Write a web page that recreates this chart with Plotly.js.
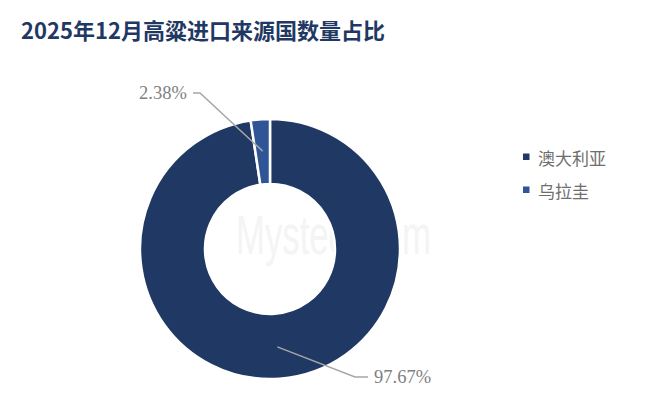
<!DOCTYPE html>
<html><head><meta charset="utf-8">
<script src="https://cdn.plot.ly/plotly-3.0.1.min.js"></script>
<style>html,body{margin:0;padding:0;background:#fff}
#wrap{position:relative;width:654px;height:405px}
#wm{position:absolute;left:236px;top:205px;font-family:'Liberation Sans',Arial,sans-serif;font-size:56px;color:#f4f4f4;line-height:60px;transform-origin:0 0;transform:scaleX(0.62);white-space:nowrap}
#chart{position:absolute;left:0;top:0;width:654px;height:405px}</style>
</head><body><div id="wrap"><div id="wm">Mysteel.com</div><div id="chart"></div></div>
<script>
const categories = ['澳大利亚', '乌拉圭'];
const values = [97.67, 2.38];
const valueLabels = ['97.67%', '2.38%'];
const colors = ['#203864', '#2F5597'];
const titleText = '2025年12月高粱进口来源国数量占比';

const W = 654, H = 405;
const cx = 270, cy = 249, R = 130;

const total = values.reduce((a, b) => a + b, 0);
let cum = 0;
const shapes = [], annotations = [];
const leader = [
  {elbow: [355, 377], end: [368, 377], lx: 372, anchor: 'left'},
  {elbow: [200, 93], end: [193, 93], lx: 189, anchor: 'right'}
];
values.forEach((v, i) => {
  const mid = (cum + v / 2) / total * 2 * Math.PI;
  cum += v;
  const r = R * 0.755;
  const sx = cx + r * Math.sin(mid), sy = cy - r * Math.cos(mid);
  const L = leader[i];
  shapes.push({type: 'path', xref: 'x', yref: 'y',
    path: `M${sx},${sy} L${L.elbow[0]},${L.elbow[1]} L${L.end[0]},${L.end[1]}`,
    line: {color: '#A6A6A6', width: 1.5}});
  annotations.push({xref: 'x', yref: 'y', x: L.lx, y: L.end[1], text: valueLabels[i],
    showarrow: false, xanchor: L.anchor, yanchor: 'middle',
    font: {family: 'Liberation Serif, serif', size: 18.5, color: '#7F7F7F'}});
});

const legTop = 157, legGap = 33;
categories.forEach((c, i) => {
  const y = legTop + i * legGap;
  shapes.push({type: 'rect', xref: 'x', yref: 'y', x0: 523, x1: 529.5, y0: y - 3.5, y1: y + 3,
    fillcolor: colors[i], line: {width: 0}});
  annotations.push({xref: 'x', yref: 'y', x: 536, y: y, text: c, showarrow: false,
    xanchor: 'left', yanchor: 'middle',
    font: {family: 'Noto Sans CJK SC', size: 17, color: '#6E6E6E'}});
});

const trace = {
  type: 'pie', labels: categories, values: values, sort: false, direction: 'clockwise',
  rotation: 0, hole: 0.5, textinfo: 'none', hoverinfo: 'none',
  marker: {colors: colors, line: {color: '#ffffff', width: 2.5}},
  domain: {x: [(cx - R) / W, (cx + R) / W], y: [(H - cy - R) / H, (H - cy + R) / H]}
};

const layout = {
  width: W, height: H, margin: {l: 0, r: 0, t: 0, b: 0},
  paper_bgcolor: 'rgba(0,0,0,0)', plot_bgcolor: 'rgba(0,0,0,0)',
  title: {text: '<b>' + titleText + '</b>', x: 21 / W, xanchor: 'left', y: 1 - 31 / H, yanchor: 'middle',
    font: {family: 'Noto Sans CJK SC', size: 22, color: '#1F3864'}},
  xaxis: {range: [0, W], visible: false, fixedrange: true},
  yaxis: {range: [H, 0], visible: false, fixedrange: true},
  showlegend: false,
  shapes: shapes, annotations: annotations
};

Plotly.newPlot('chart', [trace], layout, {displayModeBar: false, staticPlot: true});
</script></body></html>
